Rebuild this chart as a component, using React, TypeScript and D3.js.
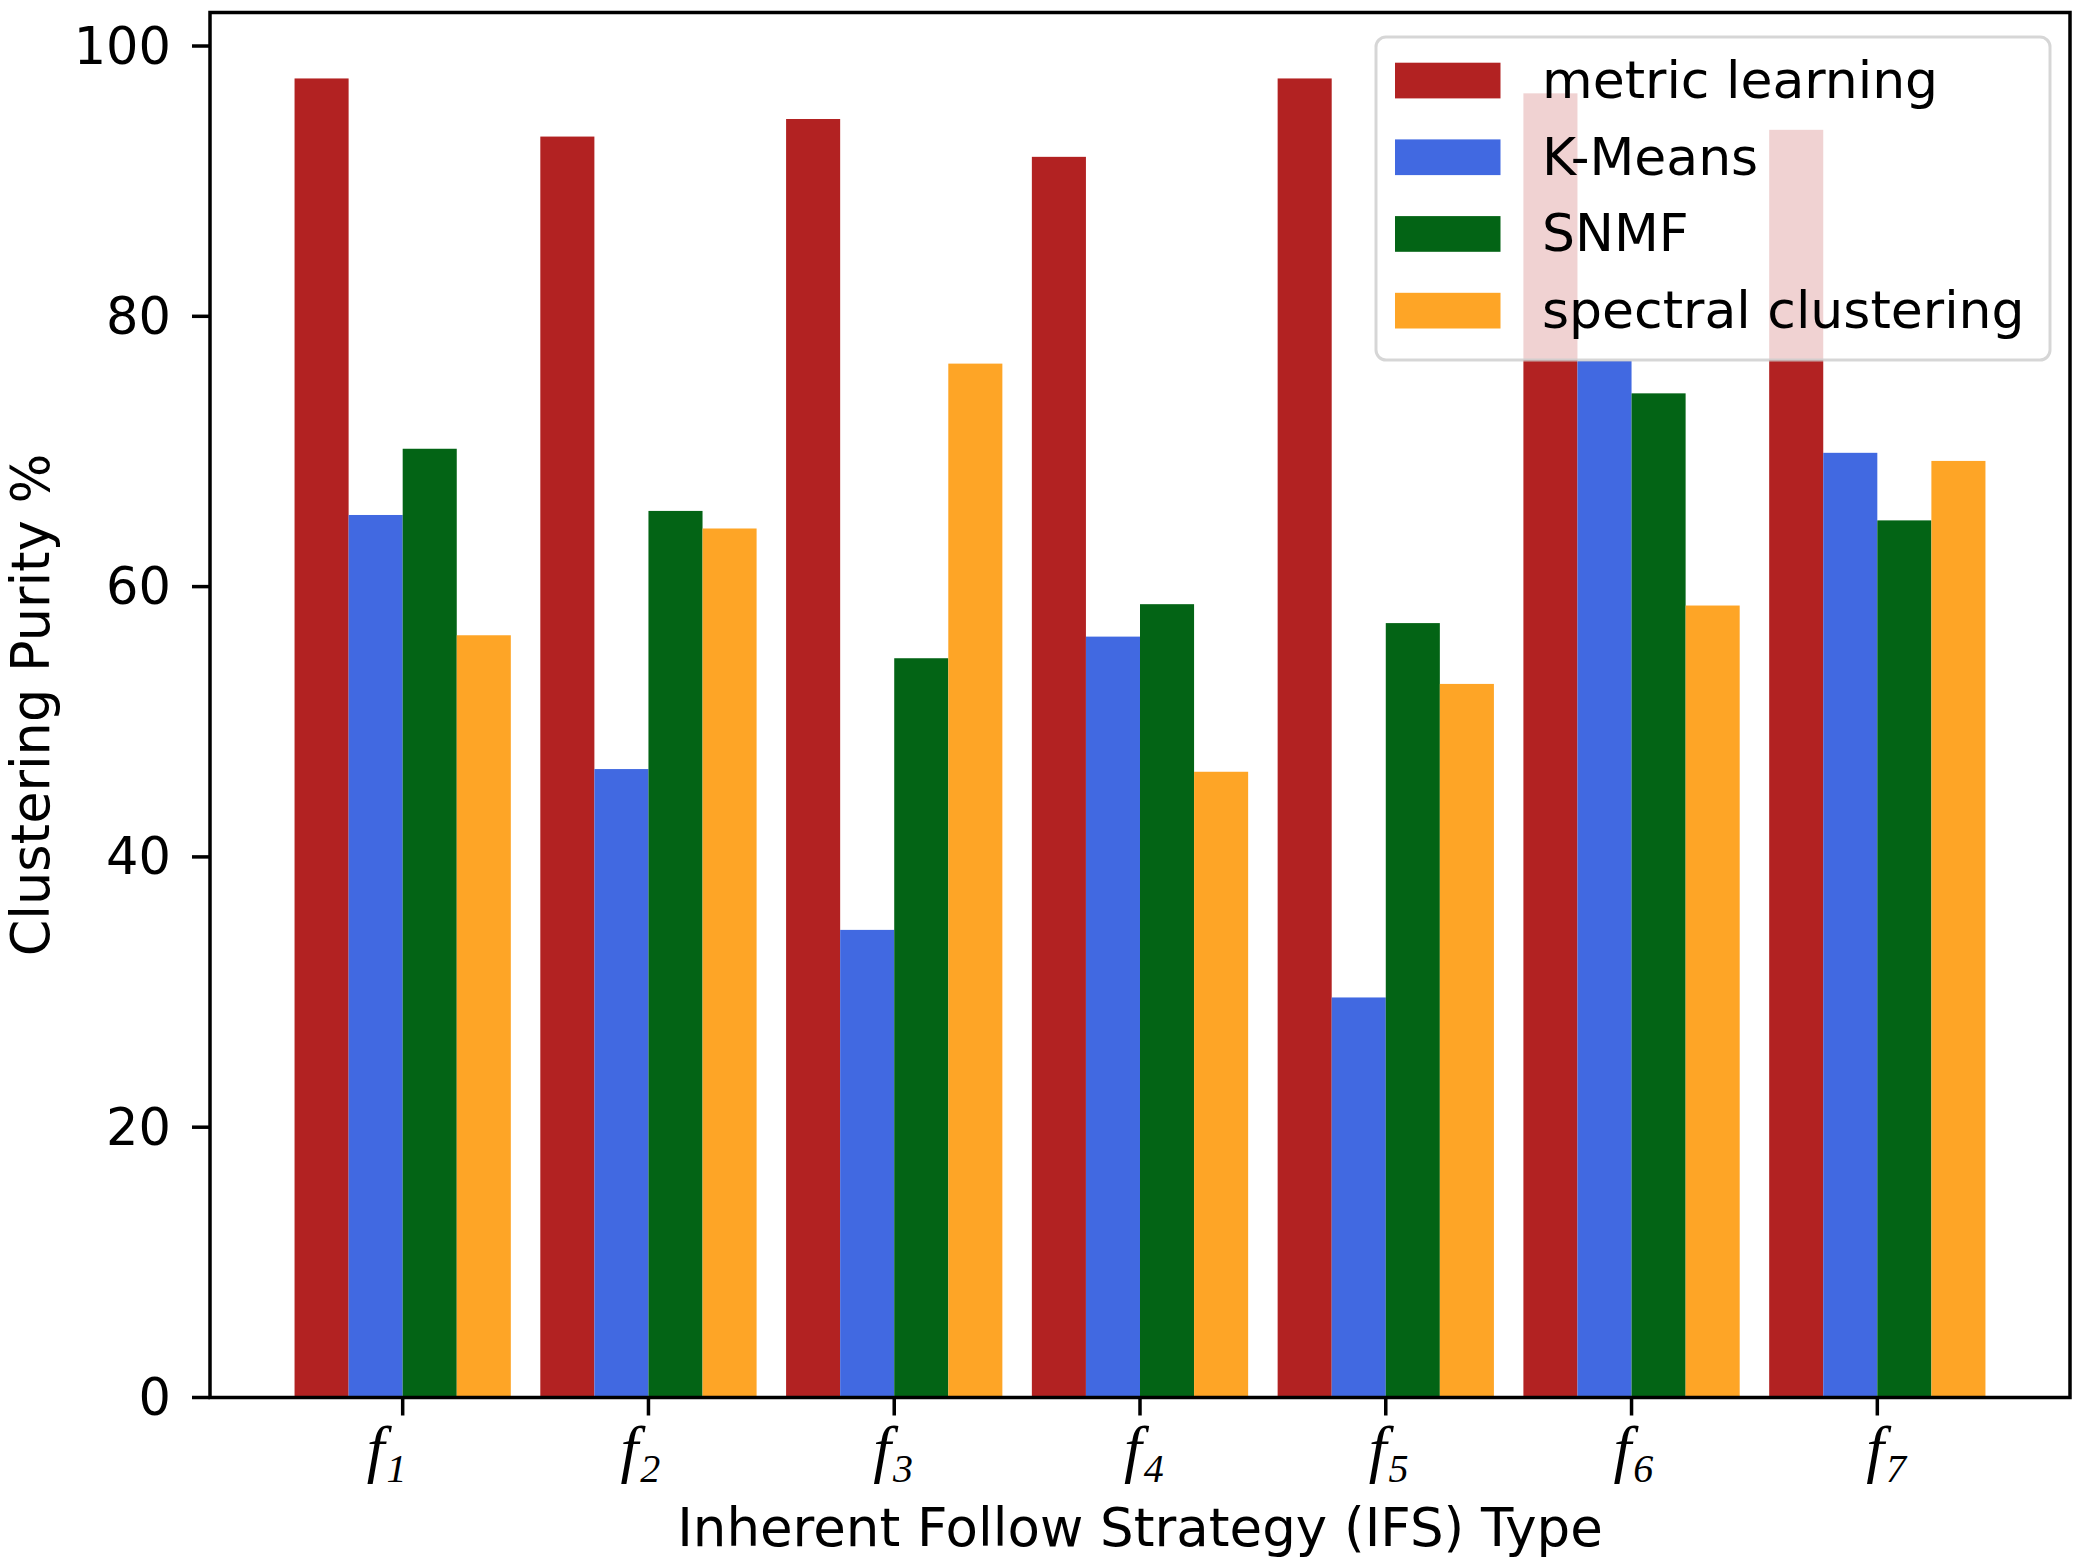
import React from 'react';
import * as d3 from 'd3';

const categories = ['1', '2', '3', '4', '5', '6', '7'];
const seriesNames = ['metric learning', 'K-Means', 'SNMF', 'spectral clustering'];
const seriesColors = ['#b22222', '#4169e1', '#036415', '#fea526'];

const metricLearning = [97.6, 93.3, 94.6, 91.8, 97.6, 96.5, 93.8];
const kMeans = [65.3, 46.5, 34.6, 56.3, 29.6, 76.7, 69.9];
const snmf = [70.2, 65.6, 54.7, 58.7, 57.3, 74.3, 64.9];
const spectral = [56.4, 64.3, 76.5, 46.3, 52.8, 58.6, 69.3];

const yTicks = [0, 20, 40, 60, 80, 100];

const W = 2082;
const H = 1562;
const margin = { left: 210, right: 2070, top: 12.5, bottom: 1397.5 };
const barW = 0.22;
// the tick labels in the source sit a little left of their ticks, more so on the left
const labelNudge = [-36, -28, -21, -16, -17, -18, -11];

const App: React.FC = () => {
  const series = [metricLearning, kMeans, snmf, spectral];

  const lo = -2 * barW;
  const hi = categories.length - 1 + 2 * barW;
  const pad = (hi - lo) * 0.05;
  const x = d3.scaleLinear().domain([lo - pad, hi + pad]).range([margin.left, margin.right]);

  const maxVal = d3.max(series.flat()) || 0;
  const y = d3.scaleLinear().domain([0, maxVal * 1.05]).range([margin.bottom, margin.top]);

  const sans = 'DejaVu Sans';

  // legend geometry
  const lg = { x: 1376, y: 37, w: 674, h: 323 };
  const rowGap = 76.7;

  return (
    <div style={{ position: 'absolute', left: 0, top: 0 }}>
      <svg width={W} height={H} viewBox={`0 0 ${W} ${H}`} style={{ display: 'block', background: '#fff' }}>
        {/* bars */}
        {series.map((vals, s) => (
          <g key={seriesNames[s]} fill={seriesColors[s]}>
            {vals.map((v, i) => {
              const x0 = x(i + (s - 2) * barW);
              const x1 = x(i + (s - 1) * barW);
              return <rect key={i} x={x0} y={y(v)} width={x1 - x0} height={y(0) - y(v)} />;
            })}
          </g>
        ))}

        {/* frame */}
        <rect
          x={margin.left}
          y={margin.top}
          width={margin.right - margin.left}
          height={margin.bottom - margin.top}
          fill="none"
          stroke="#000"
          strokeWidth={3.5}
        />

        {/* y axis ticks */}
        {yTicks.map(t => (
          <g key={t}>
            <line x1={margin.left - 18} x2={margin.left} y1={y(t)} y2={y(t)} stroke="#000" strokeWidth={3.5} />
            <text
              x={margin.left - 39}
              y={y(t)}
              textAnchor="end"
              dominantBaseline="central"
              fontFamily={sans}
              fontSize={51}
              fill="#000"
            >
              {t}
            </text>
          </g>
        ))}

        {/* x axis ticks */}
        {categories.map((c, i) => (
          <g key={c}>
            <line x1={x(i)} x2={x(i)} y1={margin.bottom} y2={margin.bottom + 18} stroke="#000" strokeWidth={3.5} />
            <text x={x(i) + labelNudge[i]} y={1470} fontFamily="Liberation Serif" fontStyle="italic" fill="#000">
              <tspan fontSize={64}>f</tspan>
              <tspan fontSize={40} dx={2} dy={12}>{c}</tspan>
            </text>
          </g>
        ))}

        {/* axis labels */}
        <text
          x={(margin.left + margin.right) / 2}
          y={1546}
          textAnchor="middle"
          fontFamily={sans}
          fontSize={53}
          fill="#000"
        >
          Inherent Follow Strategy (IFS) Type
        </text>
        <text
          transform={`translate(49,${(margin.top + margin.bottom) / 2}) rotate(-90)`}
          textAnchor="middle"
          fontFamily={sans}
          fontSize={52.5}
          fill="#000"
        >
          Clustering Purity %
        </text>

        {/* legend */}
        <rect
          x={lg.x}
          y={lg.y}
          width={lg.w}
          height={lg.h}
          rx={10}
          ry={10}
          fill="#fff"
          fillOpacity={0.8}
          stroke="#cccccc"
          strokeOpacity={0.8}
          strokeWidth={3}
        />
        {seriesNames.map((name, s) => (
          <g key={name}>
            <rect x={1395} y={62.7 + s * rowGap} width={105.5} height={35.7} fill={seriesColors[s]} />
            <text x={1542} y={98 + s * rowGap} fontFamily={sans} fontSize={52} fill="#000">
              {name}
            </text>
          </g>
        ))}
      </svg>
    </div>
  );
};

export default App;
